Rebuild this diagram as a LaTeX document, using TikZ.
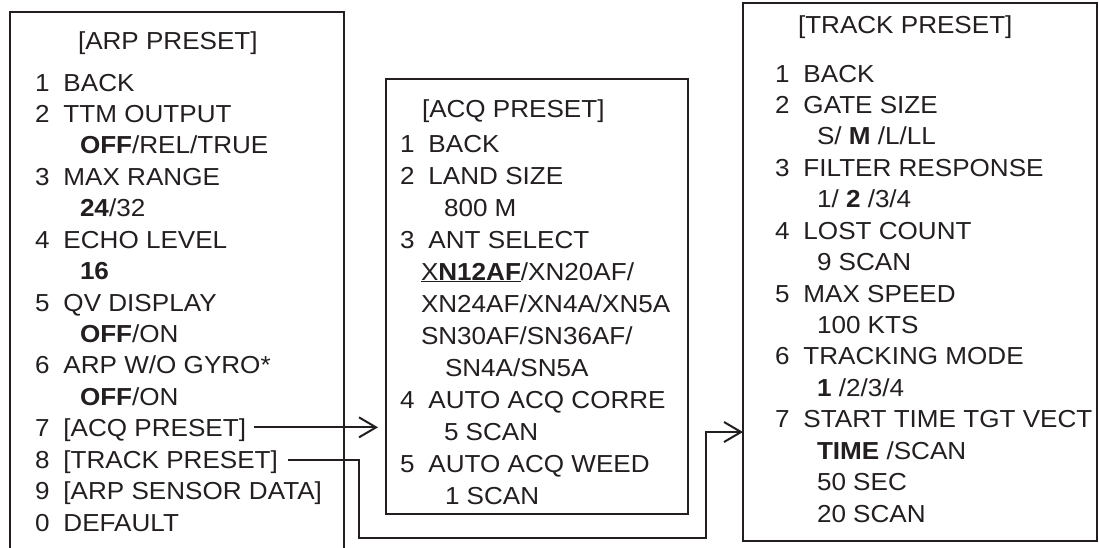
\documentclass[tikz,border=0pt]{standalone}
\usepackage{fontspec}
\setmainfont{Liberation Sans}[FakeStretch=1.06]
\usetikzlibrary{arrows.meta}
\definecolor{ink}{HTML}{231F20}
\newcommand\mitem[2]{\makebox[28.5pt][l]{#1}#2}
\begin{document}
\begin{tikzpicture}[x=1pt,y=-1pt,
  ln/.style={anchor=base west, inner sep=0pt, outer sep=0pt,
             font=\fontsize{24.6}{30}\selectfont, text=ink},
  boxline/.style={draw=ink, line width=2pt},
  menubox/.style={boxline, anchor=north west, inner sep=0pt, outer sep=0pt},
  arr/.style={draw=ink, line width=2pt,
    -{Straight Barb[length=17pt,width=20pt,line width=2pt]}}]
\useasboundingbox (0,0) rectangle (1099,547);

% ---------- left box (ARP PRESET), open at the bottom ----------
\draw[boxline] (10,548) -- (10,12) -- (344,12) -- (344,548);
\node[ln] (arpt) at (78,49) {[ARP PRESET]};
\node[ln] (arp1)  at (35,91.0)  {\mitem{1}{BACK}};
\node[ln] (arp2)  at (35,122.4) {\mitem{2}{TTM OUTPUT}};
\node[ln] (arp2v) at (80,153.9) {\textbf{OFF}/REL/TRUE};
\node[ln] (arp3)  at (35,185.3) {\mitem{3}{MAX RANGE}};
\node[ln] (arp3v) at (80,216.7) {\textbf{24}/32};
\node[ln] (arp4)  at (35,248.2) {\mitem{4}{ECHO LEVEL}};
\node[ln] (arp4v) at (80,279.6) {\textbf{16}};
\node[ln] (arp5)  at (35,311.0) {\mitem{5}{QV DISPLAY}};
\node[ln] (arp5v) at (80,342.4) {\textbf{OFF}/ON};
\node[ln] (arp6)  at (35,373.9) {\mitem{6}{ARP W/O GYRO*}};
\node[ln] (arp6v) at (80,405.3) {\textbf{OFF}/ON};
\node[ln] (arp7)  at (35,436.7) {\mitem{7}{[ACQ PRESET]}};
\node[ln] (arp8)  at (35,468.2) {\mitem{8}{[TRACK PRESET]}};
\node[ln] (arp9)  at (35,499.6) {\mitem{9}{[ARP SENSOR DATA]}};
\node[ln] (arp0)  at (35,531.0) {\mitem{0}{DEFAULT}};

% ---------- middle box (ACQ PRESET) ----------
\node[menubox, minimum width=302pt, minimum height=435pt] (acqbox) at (386,79) {};
\node[ln] (acqt) at (422,117) {[ACQ PRESET]};
\node[ln] (acq1)  at (400,152) {\mitem{1}{BACK}};
\node[ln] (acq2)  at (400,184) {\mitem{2}{LAND SIZE}};
\node[ln] (acq2v) at (444,216) {800 M};
\node[ln] (acq3)  at (400,248) {\mitem{3}{ANT SELECT}};
\node[ln] (acq3a) at (421,280) {\underline{X\textbf{N12AF}}/XN20AF/};
\node[ln] (acq3b) at (421,312) {XN24AF/XN4A/XN5A};
\node[ln] (acq3c) at (421,344) {SN30AF/SN36AF/};
\node[ln] (acq3d) at (445,376) {SN4A/SN5A};
\node[ln] (acq4)  at (400,408) {\mitem{4}{AUTO ACQ CORRE}};
\node[ln] (acq4v) at (444,440) {5 SCAN};
\node[ln] (acq5)  at (400,472) {\mitem{5}{AUTO ACQ WEED}};
\node[ln] (acq5v) at (445,504) {1 SCAN};

% ---------- right box (TRACK PRESET) ----------
\node[menubox, minimum width=354pt, minimum height=538pt] (trackbox) at (743,3) {};
\node[ln] (trkt) at (798,33) {[TRACK PRESET]};
\node[ln] (trk1)  at (775,82.0)  {\mitem{1}{BACK}};
\node[ln] (trk2)  at (775,113.4) {\mitem{2}{GATE SIZE}};
\node[ln] (trk2v) at (817,144.9) {S/ \textbf{M} /L/LL};
\node[ln] (trk3)  at (775,176.3) {\mitem{3}{FILTER RESPONSE}};
\node[ln] (trk3v) at (817,207.7) {1/ \textbf{2} /3/4};
\node[ln] (trk4)  at (775,239.2) {\mitem{4}{LOST COUNT}};
\node[ln] (trk4v) at (817,270.6) {9 SCAN};
\node[ln] (trk5)  at (775,302.0) {\mitem{5}{MAX SPEED}};
\node[ln] (trk5v) at (817,333.4) {100 KTS};
\node[ln] (trk6)  at (775,364.9) {\mitem{6}{TRACKING MODE}};
\node[ln] (trk6v) at (817,396.3) {\textbf{1} /2/3/4};
\node[ln] (trk7)  at (775,427.7) {\mitem{7}{START TIME TGT VECT}};
\node[ln] (trk7a) at (817,459.2) {\textbf{TIME} /SCAN};
\node[ln] (trk7b) at (817,490.6) {50 SEC};
\node[ln] (trk7c) at (817,522.0) {20 SCAN};

% ---------- connectors ----------
\coordinate (a1s) at ([xshift=8pt,yshift=3pt]arp7.east);
\draw[arr, shorten >=8pt] (a1s) -- (acqbox.west |- a1s);

\coordinate (a2s) at ([xshift=10pt,yshift=2pt]arp8.east);
\coordinate (r1) at (359,538);
\coordinate (r2) at (706,432);
\draw[arr] (a2s) -| (r1) -| (r2) -- (trackbox.west |- r2);
\end{tikzpicture}
\end{document}
